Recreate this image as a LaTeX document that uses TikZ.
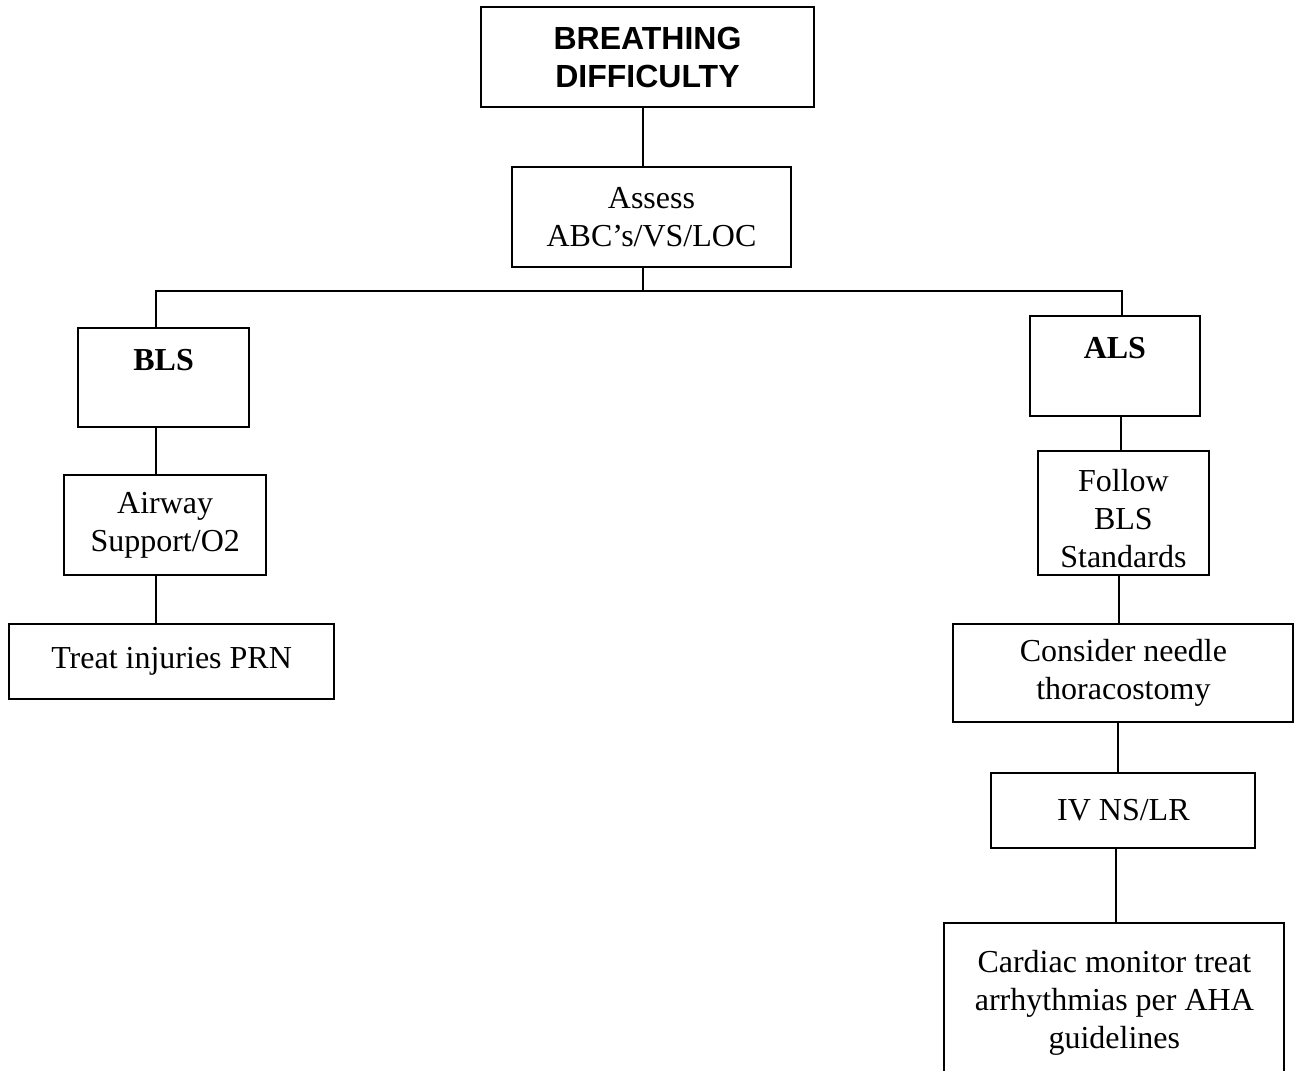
\documentclass[tikz,border=0pt]{standalone}
\usepackage{fontspec}
\setmainfont{Liberation Serif}
\newfontfamily\headfont{Liberation Sans}
\usetikzlibrary{positioning,calc}
\tikzset{box/.style={rectangle, draw, line width=0.75pt, align=center, inner sep=2pt, outer sep=0pt, font=\fontsize{12}{14.3}\selectfont}}

\begin{document}
\begin{tikzpicture}[line width=0.75pt]
\path[use as bounding box] (0,0) rectangle (486pt,-401.25pt);
\clip (0,0) rectangle (486pt,-401.25pt);
\node[box, minimum width=124.9pt, minimum height=37.5pt, font=\headfont\bfseries\fontsize{12}{14.3}\selectfont] (breathing) at (242.8pt,-21.4pt) {BREATHING\\DIFFICULTY};
\node[box, minimum width=104.6pt, minimum height=37.5pt, below=22.5pt of breathing, xshift=1.5pt] (assess) {Assess\\ABC's/VS/LOC};
\node[box, minimum width=64.1pt, minimum height=37.1pt, below left=22.9pt and 98.6pt of assess] (bls) {\textbf{BLS}\\[-5pt] \strut};
\node[box, minimum width=63.75pt, minimum height=37.5pt, below right=18.4pt and 89.6pt of assess] (als) {\textbf{ALS}\\[-5pt] \strut};
\node[box, minimum width=75.75pt, minimum height=37.5pt, below=18pt of bls, xshift=0.6pt] (airway) {Airway\\Support/O2};
\node[box, minimum width=121.9pt, minimum height=28.1pt, below=18.4pt of airway, xshift=2.4pt] (treat) {Treat injuries PRN};
\node[box, minimum width=64.1pt, minimum height=46.5pt, below=13.1pt of als, xshift=3.2pt] (follow) {\strut\\[-12pt]Follow\\BLS\\Standards};
\node[box, minimum width=127.5pt, minimum height=36.75pt, below=18.4pt of follow] (needle) {Consider needle\\thoracostomy};
\node[box, minimum width=99pt, minimum height=28.1pt, below=19.1pt of needle] (iv) {IV NS/LR};
\node[box, minimum width=127.5pt, minimum height=60pt, below=28.1pt of iv, xshift=-3.4pt] (cardiac) {Cardiac monitor treat\\arrhythmias per AHA\\guidelines};
\coordinate (bus) at ($(assess.south)+(-3.2pt,-9pt)$);
\draw ([xshift=-1.7pt]breathing.south) -- ([xshift=-1.7pt]breathing.south |- assess.north);
\draw ([xshift=-3.2pt]assess.south) -- (bus);
\draw ([xshift=-2.8pt]bls.north) |- (bus) -| ([xshift=2.6pt]als.north);
\draw ([xshift=-2.8pt]bls.south) -- ([xshift=-2.8pt]bls.south |- airway.north);
\draw ([xshift=-3.4pt]airway.south) -- ([xshift=-3.4pt]airway.south |- treat.north);
\draw ([xshift=2.2pt]als.south) -- ([xshift=2.2pt]als.south |- follow.north);
\draw ([xshift=-1.7pt]follow.south) -- ([xshift=-1.7pt]follow.south |- needle.north);
\draw ([xshift=-2.2pt]needle.south) -- ([xshift=-2.2pt]needle.south |- iv.north);
\draw ([xshift=-2.6pt]iv.south) -- ([xshift=-2.6pt]iv.south |- cardiac.north);
\end{tikzpicture}
\end{document}
